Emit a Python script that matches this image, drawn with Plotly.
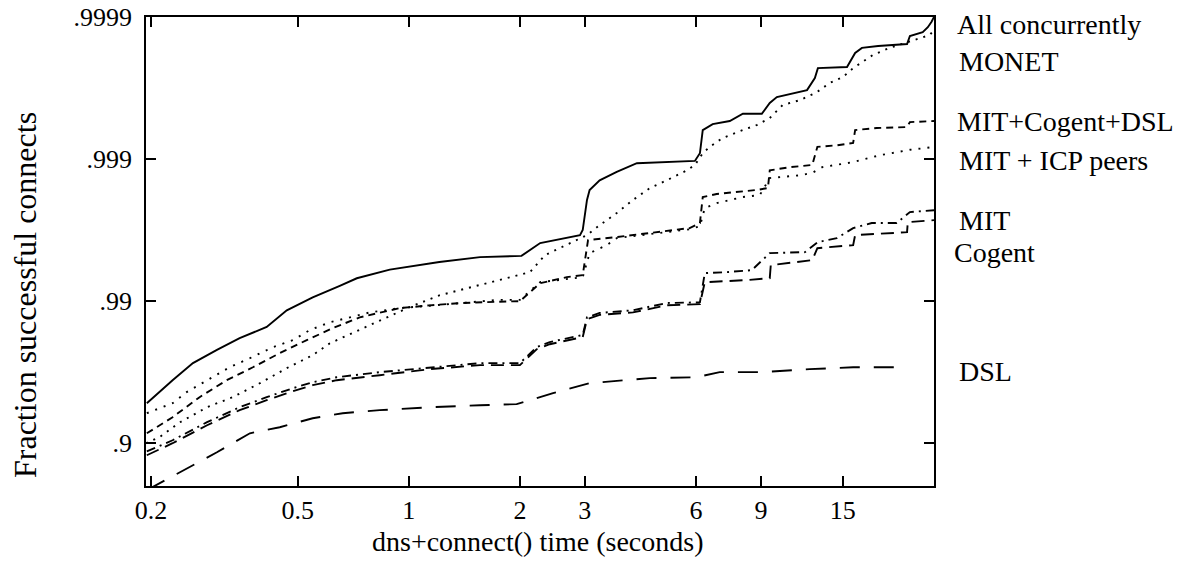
import numpy as np
import plotly.graph_objects as go

# time (seconds) and fraction of successful connects
all_t = [0.195, 0.229, 0.26, 0.302, 0.348, 0.412, 0.467, 0.549, 0.65, 0.723, 0.888, 1.21, 1.56, 2.02, 2.27,
         2.91, 2.96, 3.04, 3.09, 3.29, 3.66, 4.15, 5.96, 6.15, 6.26, 6.66, 7.41, 8.04, 9.05, 9.51,
         9.94, 12.0, 12.6, 12.84, 15.4, 16.2, 16.9, 18.7, 22.4, 22.8, 24.7, 25.5, 26.1, 26.5]
all_f = [0.9477, 0.964, 0.9727, 0.978, 0.9818, 0.9848, 0.9884, 0.9906, 0.9922, 0.9931, 0.994, 0.9947, 0.9951, 0.9952, 0.9961,
         0.99657, 0.99684, 0.99806, 0.99835, 0.99859, 0.99877, 0.99893, 0.99897, 0.99909, 0.999375, 0.999433, 0.99946, 0.99952, 0.99952, 0.999597,
         0.999634, 0.999673, 0.999731, 0.999771, 0.999775, 0.999821, 0.999835, 0.99984, 0.999845, 0.999864, 0.999872, 0.999882, 0.999892, 0.9999]

monet_t = [0.194, 0.211, 0.24, 0.284, 0.333, 0.395, 0.467, 0.549, 0.611, 0.784, 1.006, 1.21, 1.56, 2.0, 2.13,
           2.34, 2.57, 3.04, 3.29, 3.66, 4.05, 4.5, 5.0, 5.67, 5.96, 6.26, 6.54, 7.09, 8.04, 8.77,
           9.51, 10.3, 11.5, 12.76, 13.8, 15.0, 16.0, 17.0, 18.1, 20.1, 22.4, 24.7, 25.8, 26.5]
monet_f = [0.9, 0.9093, 0.9289, 0.9442, 0.9526, 0.9622, 0.9704, 0.976, 0.9802, 0.9852, 0.989, 0.9909, 0.9923, 0.99344, 0.99375,
           0.99526, 0.99576, 0.99657, 0.99708, 0.9976, 0.99806, 0.9984, 0.99859, 0.9988, 0.9989, 0.99909, 0.99918, 0.99929, 0.999375, 0.999424,
           0.999486, 0.999583, 0.999616, 0.999662, 0.999708, 0.999735, 0.999771, 0.999793, 0.999815, 0.999835, 0.99985, 0.999862, 0.999866, 0.999877]

mcd_t = [0.195, 0.229, 0.271, 0.321, 0.378, 0.447, 0.529, 0.622, 0.736, 0.945, 1.14, 1.4, 1.73, 2.0, 2.27,
         2.68, 2.96, 3.06, 3.66, 4.5, 5.77, 6.15, 6.26, 6.83, 8.77, 9.4, 9.51, 10.8, 12.4, 12.8,
         14.45, 16.0, 16.2, 18.55, 22.4, 22.8, 26.5]
mcd_f = [0.9149, 0.9344, 0.9526, 0.964, 0.9708, 0.9768, 0.9812, 0.9845, 0.987, 0.9888, 0.9893, 0.9897, 0.9899, 0.99, 0.99253,
         0.99322, 0.99344, 0.99628, 0.99646, 0.99668, 0.99694, 0.99718, 0.99815, 0.99824, 0.99835, 0.9984, 0.9988, 0.99886, 0.9989, 0.99918,
         0.9992, 0.99923, 0.999375, 0.999395, 0.999405, 0.999451, 0.99946]

icp_t = [0.195, 0.229, 0.25, 0.284, 0.327, 0.371, 0.428, 0.485, 0.539, 0.611, 0.784, 0.945, 1.14, 1.4, 1.73,
         2.0, 2.27, 2.85, 2.96, 3.09, 3.44, 3.66, 4.5, 5.77, 6.15, 6.34, 6.83, 8.04, 8.94, 9.51,
         11.5, 12.4, 13.2, 16.0, 18.9, 22.8, 24.7, 26.5]
icp_f = [0.9385, 0.9477, 0.9563, 0.964, 0.9708, 0.9748, 0.9789, 0.9812, 0.984, 0.9859, 0.988, 0.9888, 0.9893, 0.9897, 0.9902,
         0.9902, 0.99265, 0.99311, 0.99322, 0.99541, 0.99597, 0.9964, 0.99663, 0.99688, 0.99703, 0.99779, 0.99796, 0.99815, 0.99821, 0.99864,
         0.9987, 0.99875, 0.99886, 0.99895, 0.99906, 0.99914, 0.99916, 0.99918]

mit_t = [0.195, 0.229, 0.284, 0.348, 0.412, 0.485, 0.549, 0.638, 0.834, 1.14, 1.56, 2.0, 2.22, 2.41, 2.96,
         3.04, 3.29, 4.05, 5.0, 6.15, 6.34, 7.27, 8.5, 9.51, 11.84, 12.84, 14.45, 16.0, 17.97, 21.0,
         22.8, 26.5]
mit_f = [0.886, 0.9047, 0.9289, 0.9442, 0.9526, 0.959, 0.9628, 0.9657, 0.9684, 0.9708, 0.9727, 0.9727, 0.9789, 0.9806, 0.9827,
         0.987, 0.9879, 0.9884, 0.9897, 0.9898, 0.99365, 0.99375, 0.99395, 0.99541, 0.99548, 0.99616, 0.9964, 0.99694, 0.99718, 0.99718,
         0.99764, 0.99771]

cog_t = [0.195, 0.229, 0.284, 0.348, 0.412, 0.485, 0.549, 0.638, 0.834, 1.14, 1.56, 2.0, 2.22, 2.41, 2.96,
         3.04, 3.29, 4.05, 5.0, 6.15, 6.34, 8.24, 9.51, 9.57, 12.4, 12.8, 16.0, 16.2, 22.4, 22.5,
         26.5]
cog_f = [0.8785, 0.9, 0.9253, 0.9415, 0.9502, 0.957, 0.961, 0.964, 0.9668, 0.9699, 0.9718, 0.9718, 0.9782, 0.9799, 0.9821,
         0.9866, 0.9875, 0.988, 0.9893, 0.9895, 0.99265, 0.99289, 0.99311, 0.99442, 0.99486, 0.99576, 0.99597, 0.99657, 0.99673, 0.99722,
         0.99731]

dsl_t = [0.195, 0.255, 0.302, 0.371, 0.447, 0.549, 0.662, 0.834, 1.14, 1.56, 1.96, 2.13, 2.46, 3.09, 4.5,
         6.03, 6.96, 9.1, 12.2, 16.0, 22.2]
dsl_f = [0.786, 0.8524, 0.8843, 0.9149, 0.9228, 0.9333, 0.9385, 0.9415, 0.9442, 0.946, 0.9469, 0.9502, 0.9556, 0.9622, 0.9652,
         0.9657, 0.9684, 0.9684, 0.9699, 0.9708, 0.9708]

x_ticks = [0.2, 0.5, 1, 2, 3, 6, 9, 15]
x_ticktext = ["0.2", "0.5", "1", "2", "3", "6", "9", "15"]
y_ticks = [0.9, 0.99, 0.999, 0.9999]
y_ticktext = [".9", ".99", ".999", ".9999"]

series = [
    (all_t, all_f, "solid"),
    (monet_t, monet_f, "2px,6px"),
    (mcd_t, mcd_f, "7px,5px"),
    (icp_t, icp_f, "2px,7px"),
    (mit_t, mit_f, "9px,5px,2px,5px"),
    (cog_t, cog_f, "13px,7px"),
    (dsl_t, dsl_f, "20px,14px"),
]

# right-hand labels: text, x pixel of left edge, y pixel of centre (reference image)
labels = [
    ("All concurrently", 955, 25),
    ("MONET", 957, 61),
    ("MIT+Cogent+DSL", 955, 122),
    ("MIT + ICP peers", 957, 161),
    ("MIT", 957, 220),
    ("Cogent", 952, 252),
    ("DSL", 957, 371),
]

# plot box in the reference picture; the page adds an 8px body margin
L, R, T, B = 146, 934, 17, 486
OFF = 8
W, H = 1187, 563

fig = go.Figure()
for t, f, dash in series:
    fig.add_trace(go.Scatter(
        x=t, y=[1 - v for v in f], mode="lines",
        line=dict(color="black", width=1.9, dash=dash),
        showlegend=False, hoverinfo="skip",
    ))

for text, px, py in labels:
    fig.add_annotation(text=text, xref="paper", yref="paper",
                       x=(px - L) / (R - L), y=(B - py) / (B - T),
                       xanchor="left", yanchor="middle", showarrow=False,
                       font=dict(size=28))

fig.add_annotation(text="dns+connect() time (seconds)", xref="paper", yref="paper",
                   x=(537 - L) / (R - L), y=(B - 541) / (B - T),
                   xanchor="center", yanchor="middle", showarrow=False,
                   font=dict(size=28))
fig.add_annotation(text="Fraction successful connects", xref="paper", yref="paper",
                   x=(25 - L) / (R - L), y=(B - 295) / (B - T),
                   xanchor="center", yanchor="middle", showarrow=False,
                   textangle=-90, font=dict(size=32))

fig.update_layout(
    width=W, height=H,
    margin=dict(l=L - OFF, r=W - R + OFF, t=T - OFF, b=H - B + OFF),
    plot_bgcolor="white", paper_bgcolor="white",
    font=dict(family="Liberation Serif, 'Times New Roman', Times, serif", size=26, color="black"),
)
fig.update_xaxes(
    type="log", range=[np.log10(0.194), np.log10(26.5)],
    tickvals=x_ticks, ticktext=x_ticktext,
    ticks="inside", ticklen=10, tickwidth=1.5, tickcolor="black",
    showline=True, linecolor="black", linewidth=1.8, mirror="ticks",
    showgrid=False, zeroline=False, ticklabelstandoff=0, automargin=False,
)
fig.update_yaxes(
    type="log", range=[np.log10(0.2), -4],
    tickvals=[1 - v for v in y_ticks], ticktext=y_ticktext,
    ticks="inside", ticklen=10, tickwidth=1.5, tickcolor="black",
    showline=True, linecolor="black", linewidth=1.8, mirror="ticks",
    showgrid=False, zeroline=False, ticklabelstandoff=7,
    ticklabeloverflow="allow", automargin=False,
)

fig.write_html("out.html")
